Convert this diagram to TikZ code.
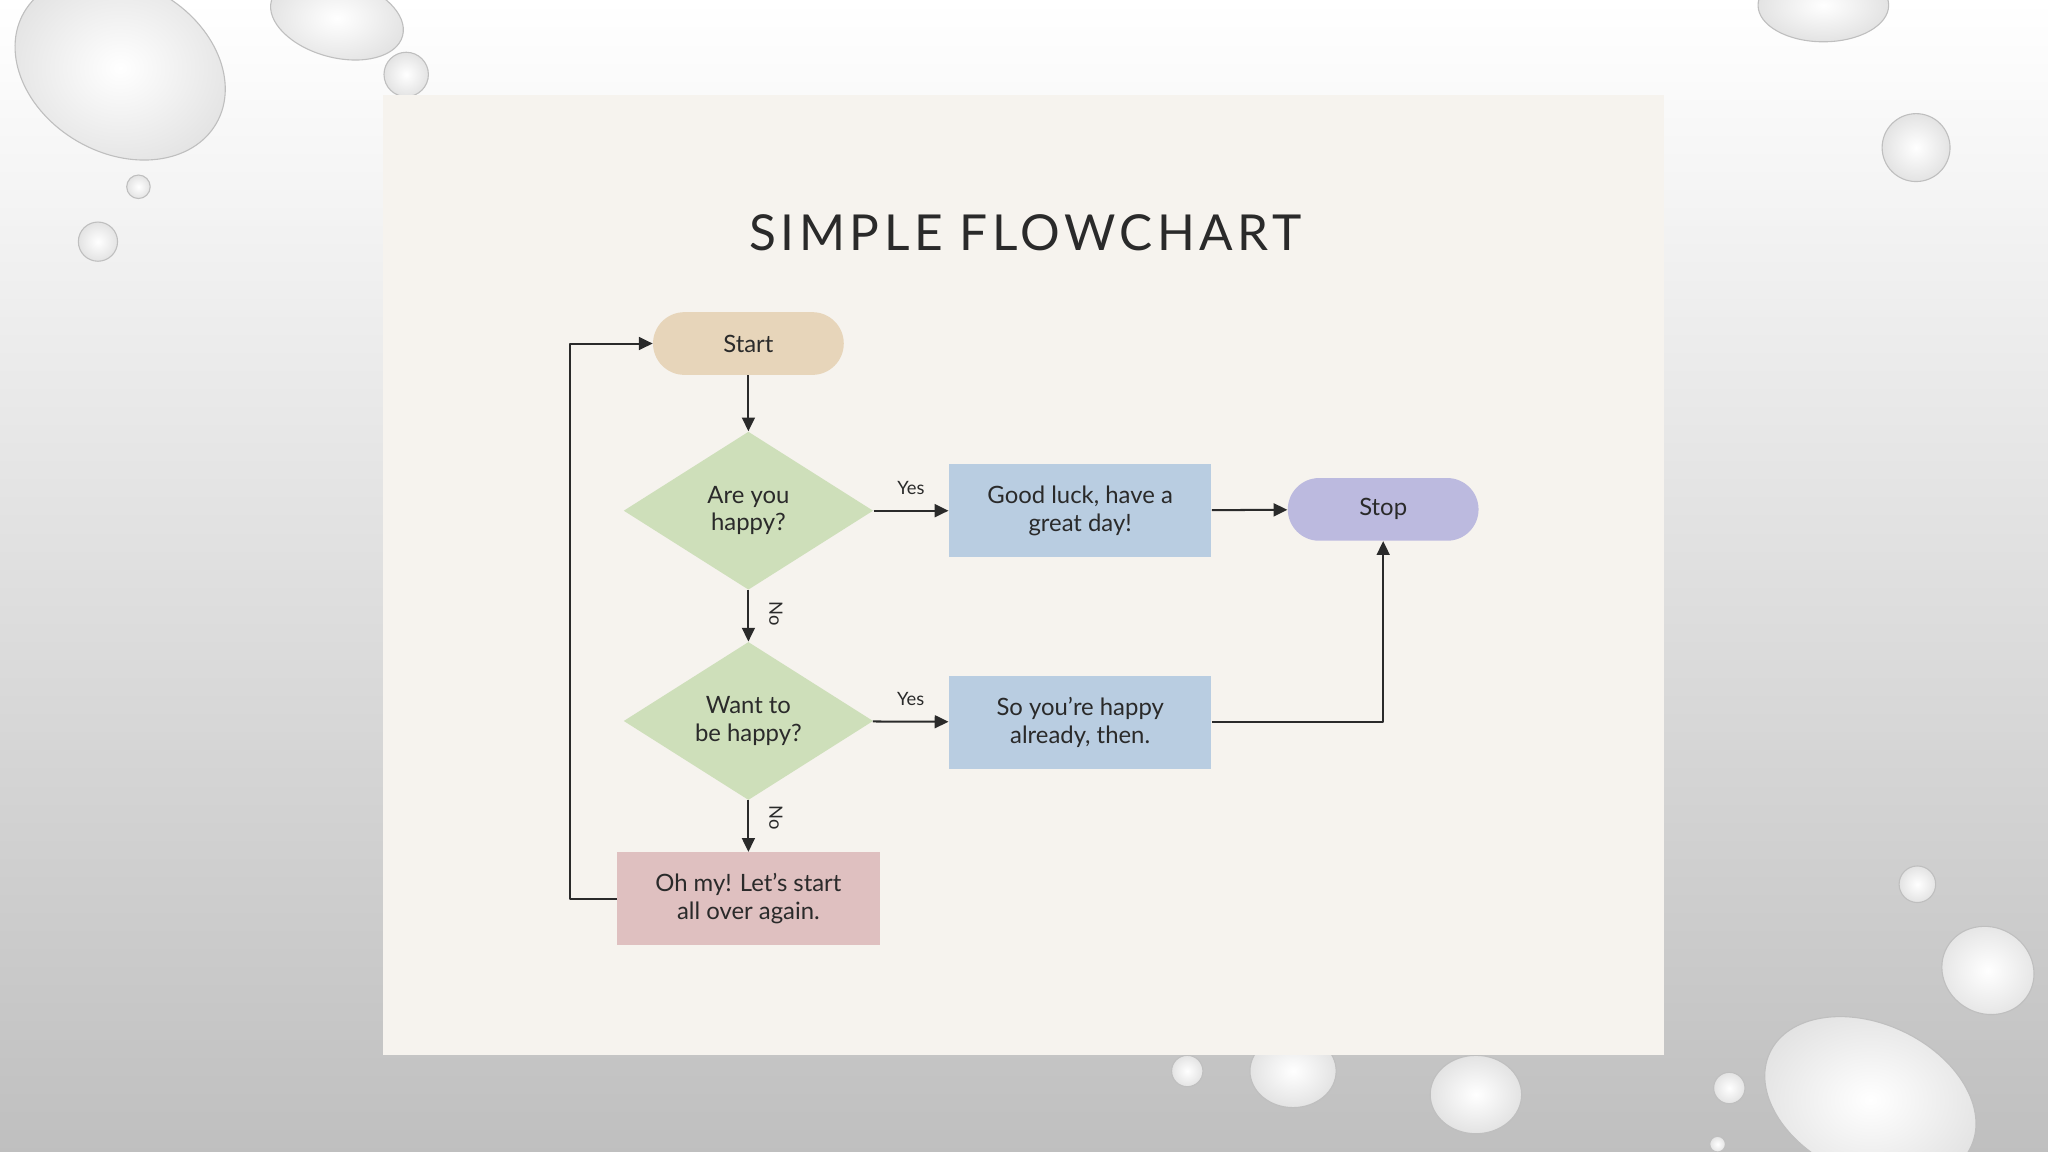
\documentclass[tikz,border=0pt]{standalone}
\usepackage{fontspec}
\setmainfont{Lato}
\newfontfamily\titlefont[LetterSpace=9]{Lato}
\usetikzlibrary{shapes.geometric,arrows.meta}
\definecolor{panel}{HTML}{F6F3EE}
\definecolor{tan}{HTML}{E7D5BA}
\definecolor{leaf}{HTML}{CEDFBA}
\definecolor{sky}{HTML}{B9CDE1}
\definecolor{lav}{HTML}{BCBADF}
\definecolor{rose}{HTML}{DFC0C0}
\definecolor{ink}{HTML}{2A2A2A}
\begin{document}
\begin{tikzpicture}[x=0.025cm,y=-0.025cm,font=\fontsize{13}{15}\selectfont,line join=round,>={Triangle[length=7.5pt,width=7pt]},
  terminal/.style={rectangle,rounded corners=0.6cm,minimum width=3.65cm,minimum height=1.2cm,align=center,text=ink},
  decision/.style={diamond,fill=leaf,minimum width=4.775cm,minimum height=3.025cm,inner sep=0pt,align=center,text=ink},
  process/.style={rectangle,minimum width=5.025cm,minimum height=1.775cm,align=center,text=ink},
  link/.style={draw=ink,line width=1.1pt},
  lbl/.style={font=\fontsize{10}{12}\selectfont,text=ink},
  drop/.style={inner color=white,outer color=gray!22,draw=gray!50,line width=0.6pt}]
\useasboundingbox (0,0) rectangle (1568,882);
\shade[top color=white,bottom color=gray!50] (0,0) rectangle (1568,882);
\shade[drop] (92,52) circle[x radius=85,y radius=65,rotate=-30];
\shade[drop] (258,14) circle[x radius=52,y radius=30,rotate=-15];
\shade[drop] (311,57) circle (17);
\shade[drop] (106,143) circle (9);
\shade[drop] (75,185) circle (15);
\shade[drop] (1396,4) circle[x radius=50,y radius=28];
\shade[drop] (1467,113) circle (26);
\shade[drop] (1468,677) circle (14);
\shade[drop] (1522,743) circle[x radius=36,y radius=33,rotate=-30];
\shade[drop] (1432,842) circle[x radius=85,y radius=58,rotate=-25];
\shade[drop] (1324,833) circle (12);
\shade[drop] (1315,876) circle (6);
\shade[drop] (909,820) circle (12);
\shade[drop] (990,820) circle[x radius=33,y radius=28];
\shade[drop] (1130,838) circle[x radius=35,y radius=30];
\fill[panel] (293,73) rectangle (1274,808);
\node[font=\titlefont\fontsize{27}{32}\selectfont,text=ink] (title) at (785,178) {SIMPLE FLOWCHART};
\node[terminal,fill=tan] (start) at (573,263) {Start};
\node[decision] (happy) at (573,391) {Are you\\happy?};
\node[process,fill=sky] (luck) at (827,391) {Good luck, have a\\great day!};
\node[terminal,fill=lav] (stop) at (1059,390) {Stop};
\node[decision] (want) at (573,552) {Want to\\be happy?};
\node[process,fill=sky] (already) at (827,553) {So you're happy\\already, then.};
\node[process,fill=rose] (again) at (573,688) {Oh my! Let's start\\all over again.};
\draw[link,->] (start) -- (happy);
\draw[link,->] (happy) -- node[lbl,above=5pt] (yes1) {Yes} (luck);
\draw[link,->] (luck) -- (stop);
\draw[link,->] (happy) -- (want);
\node[lbl,rotate=-90] (no1) at (594,470) {No};
\draw[link,->] (want) -- node[lbl,above=5pt] (yes2) {Yes} (already);
\draw[link,->] (already) -| (stop);
\draw[link,->] (want) -- (again);
\node[lbl,rotate=-90] (no2) at (594,626) {No};
\draw[link,->] (again.west) -- ++(-36,0) |- (start.west);
\end{tikzpicture}
\end{document}
